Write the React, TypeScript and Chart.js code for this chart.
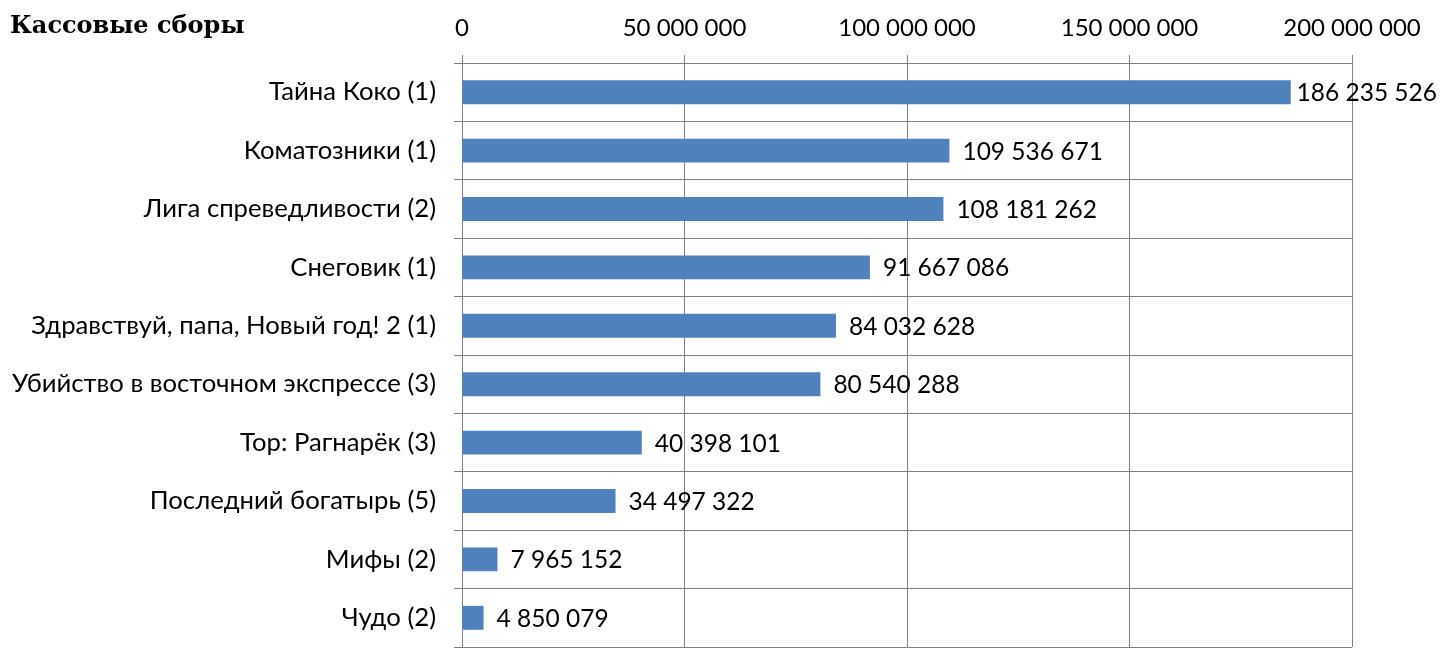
import React, { useEffect, useRef } from "react";
import { Chart, registerables } from "chart.js";

Chart.register(...registerables);

const titleText = "Кассовые сборы";
const categories = [
  "Тайна Коко (1)",
  "Коматозники (1)",
  "Лига спреведливости (2)",
  "Снеговик (1)",
  "Здравствуй, папа, Новый год! 2 (1)",
  "Убийство в восточном экспрессе (3)",
  "Тор: Рагнарёк (3)",
  "Последний богатырь (5)",
  "Мифы (2)",
  "Чудо (2)",
];
const values = [
  186235526, 109536671, 108181262, 91667086, 84032628, 80540288, 40398101,
  34497322, 7965152, 4850079,
];
const xMin = 0;
const xMax = 200000000;
const xStep = 50000000;

const fmt = (n: number) =>
  Math.round(n)
    .toString()
    .replace(/\B(?=(\d{3})+(?!\d))/g, " ");

const GRID = "#808080";
const BAR = "#4F81BD";
const FONT = "Lato";

const labelPlugin = {
  id: "valueLabels",
  afterDatasetsDraw(chart: any) {
    const ctx = chart.ctx;
    const meta = chart.getDatasetMeta(0);
    ctx.save();
    ctx.font = `24.5px ${FONT}`;
    ctx.fillStyle = "#000";
    ctx.textBaseline = "middle";
    ctx.textAlign = "left";
    meta.data.forEach((el: any, i: number) => {
      const txt = fmt(values[i]);
      const w = ctx.measureText(txt).width;
      let x = el.x + 13;
      const maxX = chart.width - 8 - w;
      if (x > maxX) x = maxX;
      ctx.fillText(txt, x, el.y + 1);
    });
    ctx.restore();
  },
};

const titlePlugin = {
  id: "leftTitle",
  afterDraw(chart: any) {
    const ctx = chart.ctx;
    ctx.save();
    ctx.font = `bold 24px "DejaVu Serif"`;
    ctx.fillStyle = "#000";
    ctx.textBaseline = "alphabetic";
    ctx.textAlign = "left";
    ctx.fillText(titleText, 10, 33);
    ctx.restore();
  },
};

export default function App() {
  const ref = useRef<HTMLCanvasElement>(null);
  useEffect(() => {
    if (!ref.current) return;
    const chart = new Chart(ref.current, {
      type: "bar",
      data: {
        labels: categories,
        datasets: [
          {
            data: values,
            backgroundColor: BAR,
            borderWidth: 0,
            barPercentage: 0.41,
            categoryPercentage: 1,
          },
        ],
      },
      options: {
        indexAxis: "y",
        responsive: false,
        animation: false,
        devicePixelRatio: 1,
        layout: { padding: { left: 0, right: 93, top: 0, bottom: 19 } },
        plugins: {
          legend: { display: false },
          tooltip: { enabled: false },
          title: { display: false },
        },
        scales: {
          x: {
            position: "top",
            min: xMin,
            max: xMax,
            ticks: {
              stepSize: xStep,
              padding: 12,
              color: "#000",
              font: { family: FONT, size: 24 },
              maxRotation: 0,
              callback: (v: any) => fmt(Number(v)),
            },
            grid: { color: GRID, lineWidth: 1, tickLength: 8, drawTicks: true },
            border: { color: GRID, width: 1 },
            afterFit: (s: any) => {
              s.height = 63;
            },
          },
          y: {
            ticks: {
              padding: 18,
              color: "#000",
              font: { family: FONT, size: 25.7 },
            },
            grid: { color: GRID, lineWidth: 1, offset: true, tickLength: 8 },
            border: { color: GRID, width: 1 },
            afterFit: (s: any) => {
              s.width = 462;
              s.paddingTop = 0;
              s.paddingBottom = 0;
            },
          },
        },
      },
      plugins: [labelPlugin, titlePlugin],
    });
    return () => chart.destroy();
  }, []);
  return (
    <div style={{ position: "absolute", left: 0, top: 0, width: 1445, height: 666, background: "#fff" }}>
      <canvas ref={ref} width={1445} height={666} style={{ display: "block" }} />
    </div>
  );
}
